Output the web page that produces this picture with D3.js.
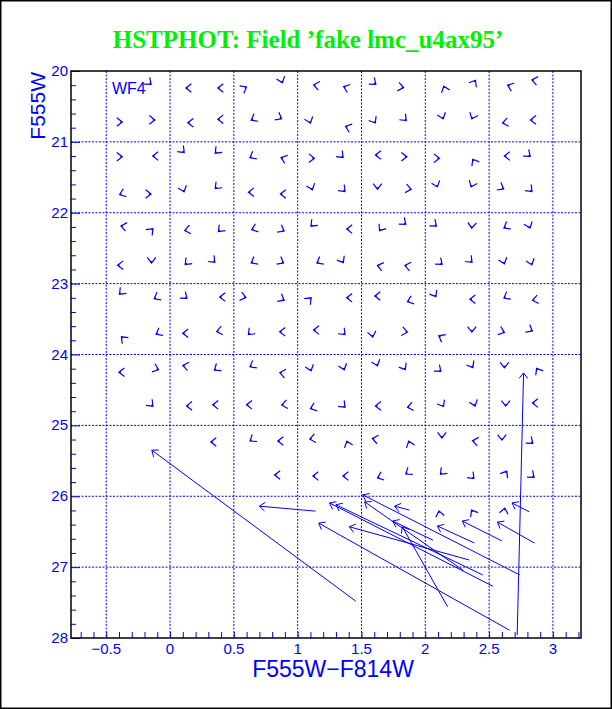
<!DOCTYPE html>
<html>
<head>
<meta charset="utf-8">
<script src="https://cdn.jsdelivr.net/npm/d3@7/dist/d3.min.js"></script>
<style>
  body { margin: 0; background: #fff; }
  text { font-family: "Liberation Sans", Arial, sans-serif; }
</style>
</head>
<body>
<div id="chart"></div>
<script>
// Chart Params
var svgWidth = 612;
var svgHeight = 709;
var margin = { top: 71, right: 31, bottom: 71, left: 71 };
var width = svgWidth - margin.left - margin.right;
var height = svgHeight - margin.top - margin.bottom;

var titleText = "HSTPHOT: Field \u2019fake lmc_u4ax95\u2019";
var chipLabel = "WF4";
var xLabel = "F555W\u2212F814W";
var yLabel = "F555W";

// axis ticks
var xTicks = [-0.5, 0, 0.5, 1, 1.5, 2, 2.5, 3];
var xTickText = ["\u22120.5", "0", "0.5", "1", "1.5", "2", "2.5", "3"];
var yTicks = [20, 21, 22, 23, 24, 25, 26, 27, 28];

// fake stars that came back nearly where they went in:
// [colour in, mag in, colour shift, mag shift]
var smallStars = [
  [-0.16, 20.17, 0.012, 0.018], [0.14, 20.24, -0.016, 0], [0.39, 20.24, -0.016, 0],
  [0.585, 20.24, 0.014, -0.014], [0.875, 20.14, 0.005, 0.026], [1.14, 20.2, -0.015, -0.005],
  [1.375, 20.23, -0.015, -0.010], [1.60, 20.17, 0.012, 0.018], [1.815, 20.23, 0.015, 0.005],
  [2.15, 20.24, -0.005, -0.026], [2.385, 20.155, 0.008, -0.024], [2.66, 20.21, -0.015, -0.010],
  [2.85, 20.13, -0.015, -0.005],

  [-0.39, 20.72, 0.016, 0], [-0.135, 20.69, 0.016, 0], [0.155, 20.73, -0.016, 0],
  [0.39, 20.68, -0.016, 0], [0.65, 20.68, -0.014, 0.014], [0.86, 20.66, 0.014, 0.014],
  [1.095, 20.71, 0.005, 0.026], [1.39, 20.79, -0.015, -0.010], [1.60, 20.71, 0.008, 0.024],
  [1.84, 20.68, 0.011, 0.020], [2.135, 20.65, 0.005, 0.026], [2.37, 20.65, -0.006, 0.026],
  [2.62, 20.73, -0.015, 0.005], [2.84, 20.69, -0.016, 0],

  [-0.39, 21.21, 0.016, 0], [-0.12, 21.2, -0.016, 0], [0.10, 21.13, 0.011, 0.020],
  [0.365, 21.14, -0.011, 0.020], [0.64, 21.21, -0.014, 0.014], [0.885, 21.23, -0.015, -0.010],
  [1.115, 21.23, 0.016, 0], [1.345, 21.2, 0.011, 0.020], [1.625, 21.185, -0.016, 0],
  [1.84, 21.21, 0.016, 0], [2.095, 21.23, 0.016, 0], [2.38, 21.27, -0.008, -0.024],
  [2.635, 21.2, -0.016, 0], [2.81, 21.185, 0.012, 0.018],

  [-0.38, 21.735, -0.015, 0.010], [-0.165, 21.735, 0.016, 0], [0.105, 21.68, 0.005, 0.026],
  [0.365, 21.64, -0.011, 0.020], [0.63, 21.71, -0.016, 0], [0.88, 21.735, -0.016, 0],
  [1.11, 21.65, 0.005, 0.026], [1.36, 21.68, 0.011, 0.020], [1.625, 21.64, 0, 0.028],
  [1.875, 21.665, 0.015, 0.005], [2.09, 21.61, 0.005, 0.026], [2.365, 21.61, -0.006, 0.026],
  [2.6, 21.65, 0.014, 0.014], [2.825, 21.68, 0.011, 0.020],

  [-0.37, 22.19, -0.015, -0.005], [-0.145, 22.245, 0.011, -0.020], [0.13, 22.245, -0.015, 0.005],
  [0.39, 22.245, -0.011, 0.020], [0.655, 22.23, -0.015, 0.010], [0.88, 22.245, 0.014, 0.014],
  [1.115, 22.17, -0.011, 0.020], [1.4, 22.23, -0.016, 0], [1.65, 22.23, -0.009, 0.023],
  [1.835, 22.145, 0.012, 0.018], [2.075, 22.17, 0.012, 0.018], [2.365, 22.19, -0.001, 0.028],
  [2.63, 22.2, -0.014, 0.014], [2.815, 22.19, 0.005, 0.026],

  [-0.395, 22.74, -0.016, 0], [-0.145, 22.68, 0, 0.028], [0.13, 22.71, -0.011, 0.020],
  [0.34, 22.68, 0.011, 0.020], [0.65, 22.695, -0.014, 0.014], [0.875, 22.695, 0.014, 0.014],
  [1.165, 22.695, -0.014, 0.014], [1.35, 22.68, 0.008, 0.024], [1.64, 22.75, -0.015, -0.007],
  [1.855, 22.75, -0.015, -0.005], [2.12, 22.71, 0.012, 0.018], [2.355, 22.68, 0.011, 0.020],
  [2.615, 22.695, 0.005, 0.026], [2.83, 22.71, 0.005, 0.026],

  [-0.385, 23.13, -0.011, 0.020], [-0.11, 23.2, -0.014, 0.014], [0.12, 23.19, 0.012, 0.018],
  [0.405, 23.19, -0.016, 0], [0.58, 23.19, 0.015, 0.007], [0.88, 23.22, 0.014, 0.014],
  [1.095, 23.22, 0.011, -0.020], [1.4, 23.2, -0.016, 0], [1.62, 23.175, -0.016, 0],
  [1.875, 23.245, -0.015, 0.010], [2.075, 23.16, 0.008, 0.024], [2.365, 23.22, -0.016, 0],
  [2.63, 23.19, -0.014, 0.014], [2.855, 23.23, -0.015, 0.005],

  [-0.37, 23.77, -0.011, -0.020], [-0.095, 23.7, -0.014, 0.014], [0.115, 23.7, -0.016, 0],
  [0.38, 23.67, -0.015, 0.005], [0.625, 23.7, -0.011, 0.020], [0.875, 23.68, -0.016, 0],
  [1.14, 23.655, -0.016, 0], [1.36, 23.7, 0.011, 0.020], [1.585, 23.725, 0.003, 0.028],
  [1.845, 23.68, 0.015, 0.005], [2.12, 23.75, -0.014, -0.014], [2.365, 23.655, 0, 0.028],
  [2.605, 23.68, 0.015, 0.010], [2.825, 23.655, 0.014, 0.014],

  [-0.385, 24.25, -0.016, 0], [-0.105, 24.205, 0.015, 0.010], [0.115, 24.16, -0.015, -0.005],
  [0.36, 24.205, -0.013, 0.016], [0.64, 24.16, -0.014, 0.014], [0.875, 24.26, -0.015, -0.005],
  [1.10, 24.205, 0.005, 0.026], [1.36, 24.19, 0.005, 0.026], [1.62, 24.135, 0.005, 0.026],
  [1.835, 24.19, 0.008, 0.024], [2.11, 24.22, 0.012, 0.018], [2.365, 24.16, 0.008, 0.024],
  [2.62, 24.16, 0, 0.028], [2.88, 24.22, -0.008, -0.024],

  [-0.145, 24.71, 0.011, 0.020], [0.145, 24.725, -0.016, 0], [0.35, 24.71, -0.016, 0],
  [0.615, 24.71, -0.016, 0], [0.89, 24.71, -0.015, 0.005], [1.115, 24.755, -0.015, 0.010],
  [1.36, 24.725, 0.011, 0.020], [1.625, 24.725, -0.016, 0], [1.875, 24.74, -0.015, 0.005],
  [2.135, 24.71, 0.008, 0.024], [2.385, 24.7, 0.005, 0.026], [2.63, 24.7, 0, 0.028],
  [2.855, 24.685, -0.016, 0],

  [0.335, 25.235, -0.016, 0], [0.64, 25.205, -0.013, 0.016], [0.86, 25.22, -0.016, 0],
  [1.11, 25.19, -0.015, 0.005], [1.39, 25.25, -0.005, -0.026], [1.60, 25.19, -0.015, -0.005],
  [1.875, 25.25, -0.005, -0.026], [2.13, 25.15, 0, 0.028], [2.385, 25.22, -0.015, -0.005],
  [2.6, 25.18, 0, 0.028], [2.83, 25.235, 0.012, 0.018],

  [0.835, 25.7, -0.016, 0], [1.135, 25.715, -0.016, 0], [1.37, 25.715, -0.016, 0],
  [1.64, 25.73, -0.015, 0.010], [1.86, 25.67, -0.013, 0.016], [2.13, 25.67, -0.011, 0.020],
  [2.37, 25.73, 0.011, 0.020], [2.63, 25.67, 0.008, -0.024], [2.84, 25.715, 0.012, 0.018],

  [2.11, 26.235, -0.003, -0.028], [2.37, 26.22, -0.008, -0.024], [2.62, 26.195, 0.003, -0.028]
];

// fake stars with large shifts: [colour in, mag in, colour out, mag out]
var bigStars = [
  [1.455, 27.48, -0.143, 25.35],
  [1.14, 26.21, 0.70, 26.14],
  [1.875, 26.195, 1.76, 26.14],
  [2.815, 26.22, 2.68, 26.095],
  [2.385, 26.66, 2.095, 26.42],
  [2.6, 26.63, 2.29, 26.35],
  [2.855, 26.66, 2.565, 26.365],
  [2.72, 27.96, 2.77, 24.26],
  [2.66, 27.89, 1.165, 26.38],
  [2.53, 27.27, 1.25, 26.095],
  [2.74, 27.11, 1.51, 25.98],
  [2.45, 27.11, 1.30, 26.12],
  [2.30, 27.05, 1.525, 26.08],
  [2.345, 26.9, 1.405, 26.43],
  [2.06, 26.62, 1.745, 26.35],
  [2.175, 27.56, 1.82, 26.43]
];

var blue = "#0000ff";

var svg = d3.select("#chart")
  .append("svg")
  .attr("width", svgWidth)
  .attr("height", svgHeight);

svg.append("rect")
  .attr("x", 0.5).attr("y", 0.5)
  .attr("width", svgWidth - 1).attr("height", svgHeight - 1)
  .attr("fill", "#fff")
  .attr("stroke", "#000")
  .attr("stroke-width", 2);

// title
svg.append("text")
  .attr("x", 308)
  .attr("y", 48)
  .attr("text-anchor", "middle")
  .style("font-family", "'Liberation Serif', 'Times New Roman', serif")
  .style("font-weight", "bold")
  .style("font-size", "25px")
  .attr("fill", "#00f000")
  .text(titleText);

var chartGroup = svg.append("g")
  .attr("transform", `translate(${margin.left}, ${margin.top})`);

var x = d3.scaleLinear().domain([-0.776, 3.22]).range([0, width]);
var y = d3.scaleLinear().domain([20, 28]).range([0, height]);

// dotted grid
chartGroup.append("g")
  .selectAll("line")
  .data(xTicks)
  .enter()
  .append("line")
  .attr("x1", d => x(d)).attr("x2", d => x(d))
  .attr("y1", 0).attr("y2", height)
  .attr("stroke", blue)
  .attr("stroke-width", 1)
  .attr("stroke-dasharray", "2,1.5");

chartGroup.append("g")
  .selectAll("line")
  .data(yTicks.slice(1, -1))
  .enter()
  .append("line")
  .attr("x1", 0).attr("x2", width)
  .attr("y1", d => y(d)).attr("y2", d => y(d))
  .attr("stroke", blue)
  .attr("stroke-width", 1)
  .attr("stroke-dasharray", "2,1.5");

// bottom axis, minor ticks pointing in
var bottomAxis = d3.axisBottom(x)
  .tickValues(d3.range(-7, 33).map(d => d / 10))
  .tickSizeInner(-6)
  .tickSizeOuter(0)
  .tickFormat("");
var xAxis = chartGroup.append("g")
  .attr("transform", `translate(0, ${height})`)
  .call(bottomAxis);
xAxis.selectAll(".tick line").attr("stroke", blue);
xAxis.select(".domain").remove();

chartGroup.append("g")
  .selectAll("text")
  .data(xTicks)
  .enter()
  .append("text")
  .attr("x", d => x(d))
  .attr("y", height + 16)
  .attr("text-anchor", "middle")
  .attr("fill", blue)
  .style("font-size", "15px")
  .text((d, i) => xTickText[i]);

// left axis
var leftAxis = d3.axisLeft(y)
  .tickValues(d3.range(100, 141).map(d => d / 5))
  .tickSizeInner(-5)
  .tickSizeOuter(0)
  .tickFormat("");
var yAxis = chartGroup.append("g")
  .call(leftAxis);
yAxis.selectAll(".tick line")
  .attr("stroke", blue)
  .attr("x2", d => Math.abs(d - Math.round(d)) < 1e-6 ? 9 : 5);
yAxis.select(".domain").remove();

chartGroup.append("g")
  .selectAll("text")
  .data(yTicks)
  .enter()
  .append("text")
  .attr("x", -3)
  .attr("y", d => y(d) + 5)
  .attr("text-anchor", "end")
  .attr("fill", blue)
  .style("font-size", "15px")
  .text(d => d);

// frame
chartGroup.append("rect")
  .attr("width", width)
  .attr("height", height)
  .attr("fill", "none")
  .attr("stroke", "#000")
  .attr("stroke-width", 1.5);

// axis titles
svg.append("text")
  .attr("x", 333)
  .attr("y", 677)
  .attr("text-anchor", "middle")
  .attr("fill", blue)
  .style("font-size", "23px")
  .text(xLabel);

svg.append("text")
  .attr("transform", "translate(45, 72) rotate(-90)")
  .attr("text-anchor", "end")
  .attr("fill", blue)
  .style("font-size", "21px")
  .text(yLabel);

chartGroup.append("text")
  .attr("x", x(-0.455))
  .attr("y", y(20.33))
  .attr("fill", blue)
  .style("font-size", "16px")
  .text(chipLabel);

// arrows
var headLen = 7;
var headAng = 38 * Math.PI / 180;

function arrowPath(x0, y0, x1, y1) {
  var a = Math.atan2(y1 - y0, x1 - x0);
  var ax = x1 - headLen * Math.cos(a - headAng);
  var ay = y1 - headLen * Math.sin(a - headAng);
  var bx = x1 - headLen * Math.cos(a + headAng);
  var by = y1 - headLen * Math.sin(a + headAng);
  return `M${x0},${y0}L${x1},${y1}M${ax},${ay}L${x1},${y1}L${bx},${by}`;
}

chartGroup.append("g")
  .selectAll("path")
  .data(smallStars)
  .enter()
  .append("path")
  .attr("d", d => arrowPath(x(d[0]), y(d[1]), x(d[0] + d[2]), y(d[1] + d[3])))
  .attr("fill", "none")
  .attr("stroke", blue)
  .attr("stroke-width", 1.2);

chartGroup.append("g")
  .selectAll("path")
  .data(bigStars)
  .enter()
  .append("path")
  .attr("d", d => arrowPath(x(d[0]), y(d[1]), x(d[2]), y(d[3])))
  .attr("fill", "none")
  .attr("stroke", blue)
  .attr("stroke-width", 1);
</script>
</body>
</html>
